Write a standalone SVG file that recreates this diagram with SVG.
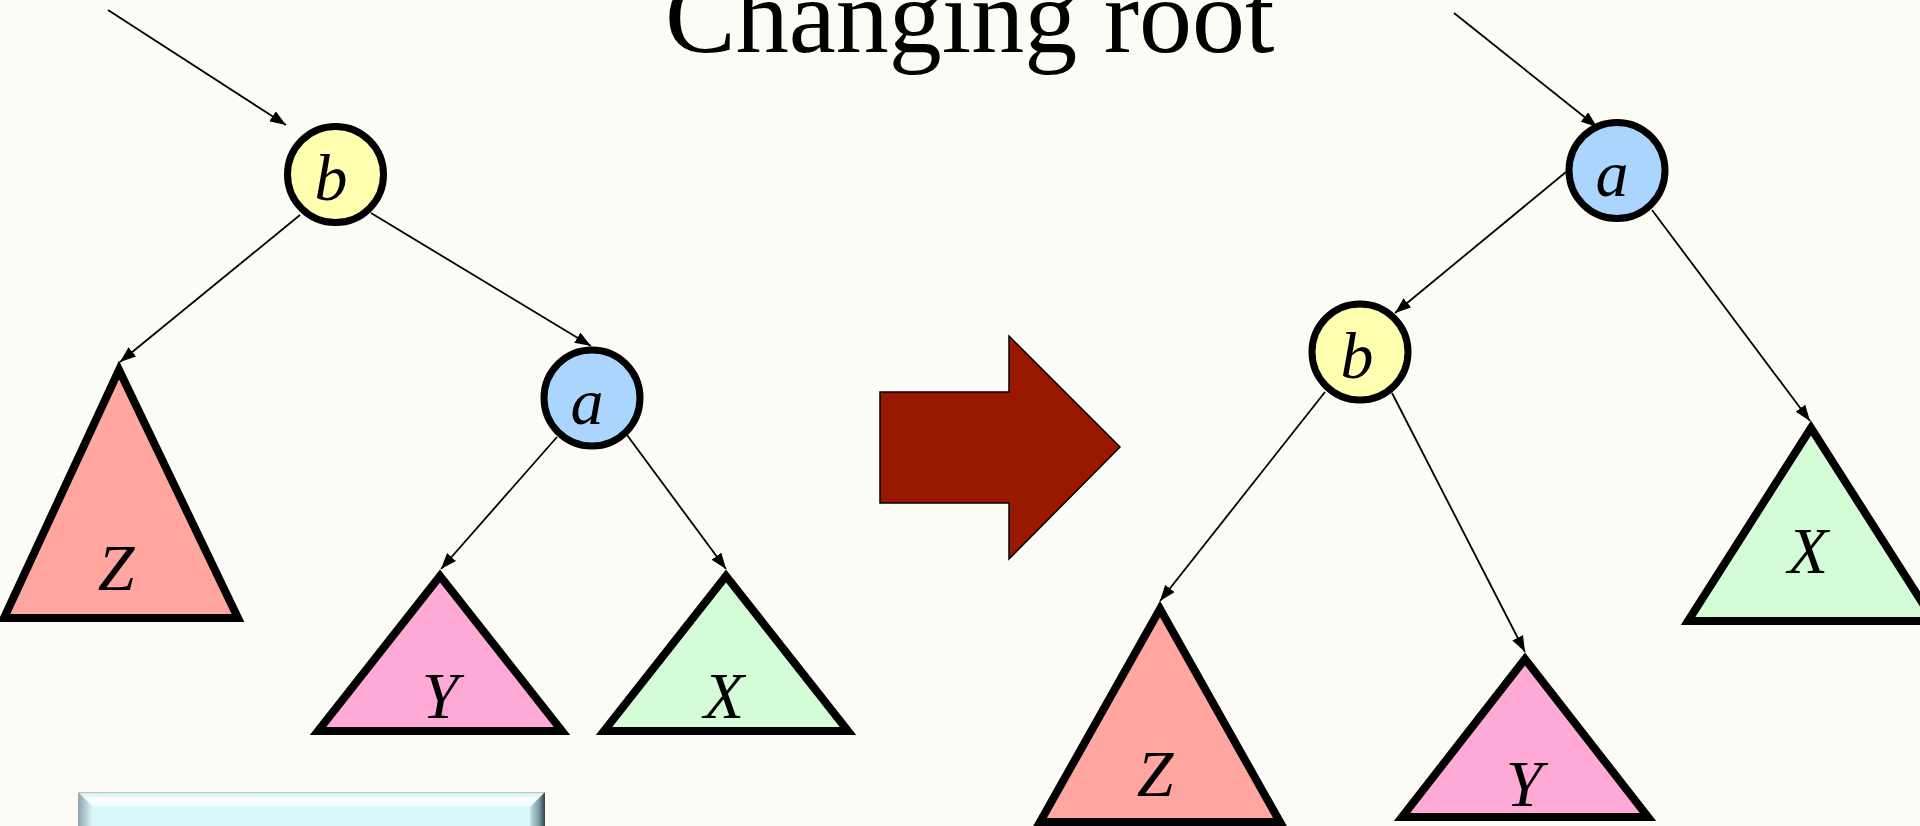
<svg xmlns="http://www.w3.org/2000/svg" width="1920" height="826" viewBox="0 0 1920 826">
  <defs>
    <marker id="ah" viewBox="0 0 16 12" refX="16" refY="6" markerWidth="16" markerHeight="12" markerUnits="userSpaceOnUse" orient="auto">
      <path d="M0,0 L16,6 L0,12 z" fill="#000"/>
    </marker>
    <linearGradient id="bevTop" x1="0" y1="0" x2="0" y2="1">
      <stop offset="0" stop-color="#c8eef2"/>
      <stop offset="0.5" stop-color="#ffffff"/>
      <stop offset="1" stop-color="#e6fbfd"/>
    </linearGradient>
    <linearGradient id="bevLeft" x1="0" y1="0" x2="1" y2="0">
      <stop offset="0" stop-color="#8aa4b0"/>
      <stop offset="1" stop-color="#e2f6fa"/>
    </linearGradient>
    <linearGradient id="bevRight" x1="0" y1="0" x2="1" y2="0">
      <stop offset="0" stop-color="#c4e2e8"/>
      <stop offset="0.6" stop-color="#7a9aa6"/>
      <stop offset="1" stop-color="#2f3f48"/>
    </linearGradient>
  </defs>
  <style>
    .bg { fill: #fcfbf6; }
    .edge { stroke: #000; stroke-width: 1.8; fill: none; marker-end: url(#ah); }
    .node { stroke: #000; stroke-width: 7; }
    .tri { stroke: #000; stroke-width: 8; stroke-linejoin: miter; stroke-miterlimit: 10; }
    .yel { fill: #ffffaf; }
    .blu { fill: #aad5ff; }
    .zc { fill: #ffa6a1; }
    .yc { fill: #ffaad6; }
    .xc { fill: #d4fcd6; }
    .lbl { font-family: "Liberation Serif", "Times New Roman", serif; font-style: italic; font-size: 66px; fill: #000; text-anchor: middle; }
    .title { font-family: "Liberation Serif", "Times New Roman", serif; font-size: 106px; fill: #000; }
  </style>
  <rect class="bg" x="0" y="0" width="1920" height="826"/>

  <text class="title" x="665" y="52">Changing root</text>

  <g id="connectors">
    <line class="edge" x1="108" y1="10" x2="286" y2="125"/>
    <line class="edge" x1="300" y1="215" x2="120" y2="362"/>
    <line class="edge" x1="371" y1="213" x2="591" y2="346"/>
    <line class="edge" x1="557" y1="437" x2="441" y2="569"/>
    <line class="edge" x1="627" y1="435" x2="726" y2="569"/>
    <line class="edge" x1="1454" y1="13" x2="1597" y2="127"/>
    <line class="edge" x1="1566" y1="172" x2="1395" y2="313"/>
    <line class="edge" x1="1652" y1="210" x2="1810" y2="421"/>
    <line class="edge" x1="1325" y1="392" x2="1160" y2="601"/>
    <line class="edge" x1="1392" y1="393" x2="1525" y2="652"/>
  </g>

  <g id="left-b">
    <circle class="node yel" cx="335.5" cy="174.5" r="48"/>
    <text class="lbl" x="331" y="200">b</text>
  </g>
  <g id="left-a">
    <circle class="node blu" cx="592" cy="398" r="48"/>
    <text class="lbl" x="587" y="424">a</text>
  </g>
  <g id="left-Z">
    <polygon class="tri zc" points="119,370 4,618 238,618"/>
    <text class="lbl" x="116" y="590">Z</text>
  </g>
  <g id="left-Y">
    <polygon class="tri yc" points="440,576 318,731 562,731"/>
    <text class="lbl" x="440" y="718">Y</text>
  </g>
  <g id="left-X">
    <polygon class="tri xc" points="726,576 604,731 848,731"/>
    <text class="lbl" x="724" y="718">X</text>
  </g>

  <g id="big-arrow">
    <polygon points="880,392 1009,392 1009,336 1120,447 1009,559 1009,503 880,503" fill="#991800" stroke="#000" stroke-width="1.5"/>
  </g>

  <g id="right-a">
    <circle class="node blu" cx="1617" cy="170.5" r="48"/>
    <text class="lbl" x="1612" y="196">a</text>
  </g>
  <g id="right-b">
    <circle class="node yel" cx="1360" cy="352" r="48"/>
    <text class="lbl" x="1357" y="378">b</text>
  </g>
  <g id="right-Z">
    <polygon class="tri zc" points="1160,609 1040,822 1280,822"/>
    <text class="lbl" x="1155" y="796">Z</text>
  </g>
  <g id="right-Y">
    <polygon class="tri yc" points="1525,659 1402,817 1648,817"/>
    <text class="lbl" x="1524" y="806">Y</text>
  </g>
  <g id="right-X">
    <polygon class="tri xc" points="1811,428 1688,621 1934,621"/>
    <text class="lbl" x="1808" y="573">X</text>
  </g>

  <g id="bevel-box">
    <rect x="78" y="792" width="467" height="40" fill="#d8f8fc"/>
    <polygon points="78,792 545,792 530,807 93,807" fill="url(#bevTop)"/>
    <polygon points="78,792 93,807 93,830 78,830" fill="url(#bevLeft)"/>
    <polygon points="545,792 530,807 530,830 545,830" fill="url(#bevRight)"/>
    <line x1="78" y1="792.5" x2="545" y2="792.5" stroke="#b8c4c8" stroke-width="1"/>
  </g>
</svg>
